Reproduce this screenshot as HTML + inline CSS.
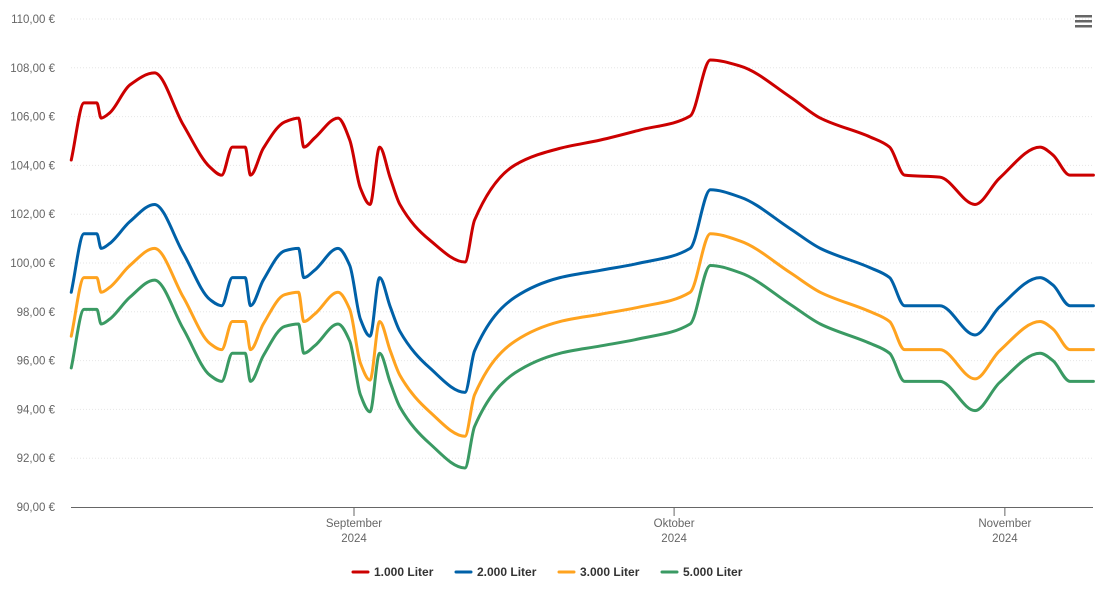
<!DOCTYPE html>
<html><head><meta charset="utf-8"><style>
html,body{margin:0;padding:0;background:#fff;}
svg{display:block;font-family:"Liberation Sans",sans-serif;}
</style></head><body>
<svg id="chart" width="1105" height="602" viewBox="0 0 1105 602">
<g id="grid"></g>
<g id="yaxis"></g>
<g id="xaxis"></g>
<g id="series"></g>
<g id="legend"></g>
<g>
<rect x="1075" y="15" width="17" height="2.5" fill="#666"/><rect x="1075" y="20" width="17" height="2.5" fill="#666"/><rect x="1075" y="25" width="17" height="2.5" fill="#666"/>
</g>
</svg>
<script>
const dayOffsets=[-26.5,-25.3,-24.1,-23.7,-22.9,-21.0,-18.7,-16.0,-13.5,-12.4,-11.4,-10.2,-9.7,-8.5,-6.5,-5.2,-4.7,-3.7,-1.5,-0.4,0.6,1.5,2.4,3.4,4.3,7.1,10.4,11.3,15.1,19.3,23.1,26.8,31.5,33.4,36.2,40.9,43.7,48.4,50.2,51.6,54.9,58.2,60.5,64.3,65.5,67.1,69.3];
const red=[104.22,106.56,106.56,105.94,106.15,107.3,107.79,105.66,103.93,103.6,104.75,104.75,103.6,104.7,105.78,105.94,104.75,105.12,105.94,105.04,103.07,102.4,104.75,103.48,102.4,100.94,100.04,101.76,104.02,104.7,105.04,105.45,106.02,108.32,108.07,106.8,105.94,105.16,104.75,103.6,103.52,102.4,103.48,104.75,104.43,103.6,103.6];
const blue=[98.8,101.2,101.2,100.6,100.8,101.7,102.4,100.4,98.5,98.25,99.4,99.4,98.25,99.3,100.5,100.6,99.4,99.7,100.6,99.9,97.7,97.0,99.4,98.2,97.2,95.7,94.7,96.4,98.6,99.4,99.7,100.0,100.6,103.0,102.7,101.4,100.6,99.8,99.4,98.25,98.25,97.05,98.2,99.4,99.1,98.25,98.25];
const orange=[97.0,99.4,99.4,98.8,99.0,99.9,100.6,98.6,96.7,96.45,97.6,97.6,96.45,97.5,98.7,98.8,97.6,97.9,98.8,98.1,95.9,95.2,97.6,96.4,95.4,93.9,92.9,94.6,96.8,97.6,97.9,98.2,98.8,101.2,100.9,99.6,98.8,98.0,97.6,96.45,96.45,95.25,96.4,97.6,97.3,96.45,96.45];
const green=[95.7,98.1,98.1,97.5,97.7,98.6,99.3,97.3,95.4,95.15,96.3,96.3,95.15,96.2,97.4,97.5,96.3,96.6,97.5,96.8,94.6,93.9,96.3,95.1,94.1,92.6,91.6,93.3,95.5,96.3,96.6,96.9,97.5,99.9,99.6,98.3,97.5,96.7,96.3,95.15,95.15,93.95,95.1,96.3,96.0,95.15,95.15];
const seriesNames=["1.000 Liter","2.000 Liter","3.000 Liter","5.000 Liter"];
const yTicks=[90,92,94,96,98,100,102,104,106,108,110];
const xTickDays=[0,30,61];
const xTickLabels=["September","Oktober","November"];
const xTickYear=["2024","2024","2024"];

const NS="http://www.w3.org/2000/svg";
const X0=71,X1=1093,Y0=507,Y1=19,D0=-26.5,D1=69.3,V0=90,V1=110;
const xs=d=>354+d*10.67;
const ys=v=>Y0-(v-V0)/(V1-V0)*(Y0-Y1);
function mk(tag,attrs,parent){const e=document.createElementNS(NS,tag);for(const k in attrs)e.setAttribute(k,attrs[k]);parent.appendChild(e);return e;}
const grid=document.getElementById('grid'),yax=document.getElementById('yaxis'),xax=document.getElementById('xaxis'),ser=document.getElementById('series'),leg=document.getElementById('legend');
yTicks.forEach(v=>{
  const y=ys(v);
  if(v>V0){const l=mk('line',{x1:X0,x2:X1,y1:y,y2:y,stroke:'#e6e6e6','stroke-width':1,'stroke-dasharray':'1,2'},grid);
  
  }
  const t=mk('text',{x:55,y:y+4,'text-anchor':'end','font-size':11.5,fill:'#666'},yax);
  t.textContent=v.toFixed(2).replace('.',',')+' €';
  
  
});
mk('line',{x1:X0,x2:X1,y1:Y0+0.5,y2:Y0+0.5,stroke:'#666','stroke-width':1},xax);
xTickDays.forEach((d,i)=>{
  const x=xs(d);
  mk('line',{x1:x,x2:x,y1:Y0,y2:Y0+9,stroke:'#666','stroke-width':1},xax);
  const t=mk('text',{x:x,y:527,'text-anchor':'middle','font-size':11.5,fill:'#666'},xax);
  t.textContent=xTickLabels[i];
  
  
  const t2=mk('text',{x:x,y:542,'text-anchor':'middle','font-size':11.5,fill:'#666'},xax);
  t2.textContent=xTickYear[i];
  
  
});
function monotone(px,py){
  const n=px.length,dx=[],m=[],t=[];
  for(let i=0;i<n-1;i++){dx[i]=px[i+1]-px[i];m[i]=(py[i+1]-py[i])/dx[i];}
  t[0]=m[0];t[n-1]=m[n-2];
  for(let i=1;i<n-1;i++){t[i]=(m[i-1]*m[i]<=0)?0:3*(dx[i-1]+dx[i])/((2*dx[i]+dx[i-1])/m[i-1]+(dx[i]+2*dx[i-1])/m[i]);}
  let d='M'+px[0]+','+py[0];
  for(let i=0;i<n-1;i++){const h=dx[i]/3;d+=' C'+(px[i]+h)+','+(py[i]+t[i]*h)+' '+(px[i+1]-h)+','+(py[i+1]-t[i+1]*h)+' '+px[i+1]+','+py[i+1];}
  return d;
}
const all=[red,blue,orange,green],colors=['#cc0000','#0061a8','#ffa31f','#3a9a63'],keys=['red','blue','orange','green'];
all.forEach((vals,si)=>{
  const p=mk('path',{d:monotone(dayOffsets.map(xs),vals.map(ys)),fill:'none',stroke:colors[si],'stroke-width':3,'stroke-linejoin':'round','stroke-linecap':'round'},ser);
  
  
});
const legX=[353,456,559,662];
seriesNames.forEach((n,i)=>{
  const g=mk('g',{},leg);
  
  
  mk('line',{x1:legX[i],x2:legX[i]+15,y1:572,y2:572,stroke:colors[i],'stroke-width':3,'stroke-linecap':'round'},g);
  const t=mk('text',{x:legX[i]+21,y:576,'font-size':12,'font-weight':'bold',fill:'#333'},g);
  t.textContent=n;
});
</script>
</body></html>
